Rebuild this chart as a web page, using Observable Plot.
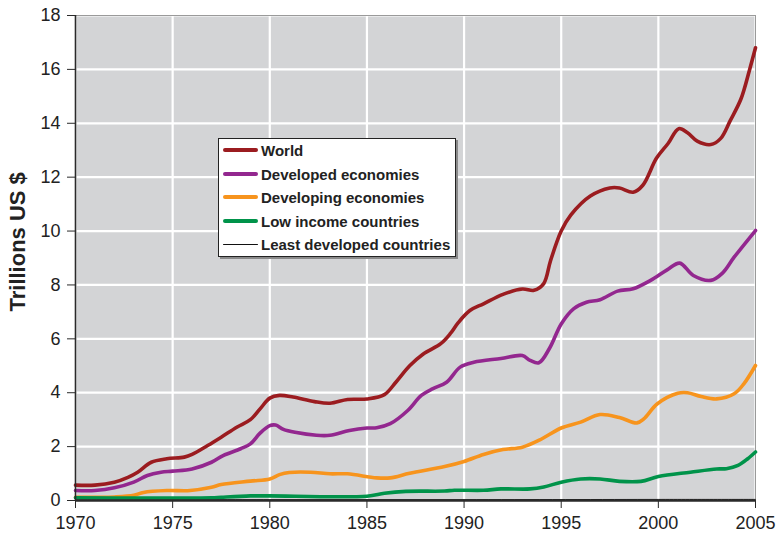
<!DOCTYPE html>
<html>
<head>
<meta charset="utf-8">
<script src="https://cdn.jsdelivr.net/npm/d3@7"></script>
<script src="https://cdn.jsdelivr.net/npm/@observablehq/plot@0.6"></script>
<style>
  body { margin: 0; background: #fff; }
  #wrap { position: relative; width: 778px; height: 540px; font-family: "Liberation Sans", Arial, sans-serif; }
  #legend { position: absolute; left: 218px; top: 138px; width: 238px; height: 119px; background: #fff;
            border: 1px solid #222; box-shadow: 2px 2px 0 #8a8a8a; box-sizing: border-box; }
  .row { position: absolute; left: 4px; height: 20px; display: flex; align-items: center; }
  .sw { width: 35px; margin-right: 3px; border-radius: 2px; }
  .lab { font-weight: bold; font-size: 15px; color: #222; white-space: nowrap; }
</style>
</head>
<body>
<div id="wrap"></div>
<script>
const seriesNames = ["World", "Developed economies", "Developing economies", "Low income countries", "Least developed countries"];
const seriesColors = ["#9b1c20", "#93278f", "#f7941d", "#00934a", "#111111"];
const xTicks = [1970, 1975, 1980, 1985, 1990, 1995, 2000, 2005];
const yTicks = [0, 2, 4, 6, 8, 10, 12, 14, 16, 18];
const yLabel = "Trillions US $";

const world = [[1970,0.57],[1971,0.57],[1972,0.68],[1972.7,0.86],[1973.2,1.05],[1973.9,1.42],[1974.7,1.55],[1975.6,1.61],[1976,1.71],[1976.8,2.04],[1977.5,2.35],[1978.3,2.72],[1979,3.0],[1979.5,3.4],[1980,3.8],[1980.5,3.9],[1981.2,3.84],[1982.3,3.67],[1983.1,3.61],[1984,3.75],[1985,3.77],[1985.9,3.93],[1986.5,4.4],[1987.2,5.0],[1987.9,5.44],[1988.8,5.82],[1989.3,6.2],[1989.7,6.6],[1990.3,7.05],[1991,7.3],[1992,7.65],[1993,7.85],[1993.6,7.8],[1994.1,8.05],[1994.45,8.9],[1995,10.0],[1995.5,10.6],[1996.5,11.3],[1997.5,11.6],[1998,11.6],[1998.7,11.44],[1999.2,11.7],[1999.9,12.7],[2000.5,13.25],[2001.05,13.8],[2001.5,13.65],[2002,13.34],[2002.7,13.21],[2003.2,13.43],[2003.7,14.1],[2004.25,14.9],[2004.7,16.0],[2005,16.8]];
const developed = [[1970,0.37],[1971,0.37],[1972,0.47],[1973,0.68],[1973.7,0.93],[1974.4,1.05],[1975,1.09],[1976,1.17],[1977,1.42],[1977.6,1.67],[1978.5,1.92],[1979,2.1],[1979.5,2.5],[1980,2.78],[1980.3,2.8],[1980.7,2.64],[1981.3,2.53],[1982.4,2.42],[1983.1,2.42],[1984.1,2.6],[1985,2.69],[1985.5,2.7],[1986.2,2.85],[1987.1,3.34],[1987.8,3.9],[1988.4,4.15],[1989.1,4.39],[1989.8,4.95],[1990.5,5.13],[1991.9,5.27],[1993,5.38],[1993.4,5.2],[1993.85,5.11],[1994.4,5.65],[1995,6.55],[1995.65,7.12],[1996.3,7.36],[1997,7.45],[1997.9,7.77],[1998.7,7.86],[1999.6,8.17],[2000.45,8.56],[2001.1,8.81],[2001.8,8.35],[2002.7,8.17],[2003.3,8.44],[2003.9,9.03],[2005,10.02]];
const developing = [[1970,0.12],[1971,0.12],[1972,0.13],[1973,0.19],[1973.5,0.3],[1974.7,0.37],[1975.9,0.37],[1977,0.49],[1977.5,0.59],[1979,0.72],[1980,0.8],[1980.5,0.96],[1981,1.04],[1982.1,1.05],[1983.1,0.99],[1984,0.99],[1985.5,0.84],[1986.2,0.84],[1987.2,1.01],[1989,1.26],[1990,1.45],[1991,1.71],[1992,1.89],[1993,1.98],[1993.9,2.25],[1995,2.69],[1996,2.91],[1997,3.19],[1998,3.08],[1998.9,2.88],[1999.25,3.03],[1999.95,3.59],[2001,3.98],[2001.5,4.0],[2002.2,3.86],[2003,3.77],[2003.9,3.96],[2004.4,4.33],[2005,5.01]];
const lowIncome = [[1970,0.1],[1977,0.1],[1977.5,0.12],[1979,0.17],[1980,0.17],[1985,0.16],[1985.9,0.27],[1987,0.34],[1989,0.35],[1989.5,0.38],[1991,0.38],[1991.9,0.43],[1993.4,0.43],[1994.1,0.5],[1995,0.68],[1996,0.8],[1997,0.8],[1998,0.71],[1999.1,0.71],[2000,0.89],[2001.65,1.05],[2003,1.17],[2003.5,1.18],[2004.1,1.3],[2004.6,1.55],[2005,1.8]];
const leastDeveloped = [[1970,0.02],[1980,0.03],[1990,0.03],[2000,0.04],[2005,0.04]];

const seriesData = [world, developed, developing, lowIncome, leastDeveloped];
const drawOrder = [4, 0, 1, 2, 3];

const lineMarks = drawOrder.map(i => Plot.line(seriesData[i], {
  x: d => d[0], y: d => d[1],
  stroke: seriesColors[i],
  strokeWidth: i === 4 ? 1 : 3.6,
  curve: "catmull-rom",
  strokeLinejoin: "round", strokeLinecap: "round"
}));

const chart = Plot.plot({
  width: 778, height: 540,
  marginLeft: 75, marginRight: 23, marginTop: 15, marginBottom: 40,
  style: { fontFamily: "'Liberation Sans', Arial, sans-serif", fontSize: "18px", color: "#222", background: "#fff", overflow: "visible" },
  x: { domain: [1970, 2005] },
  y: { domain: [0, 18] },
  marks: [
    Plot.frame({ fill: "#d3d4d6" }),
    Plot.gridX(xTicks, { stroke: "#fff", strokeOpacity: 1, strokeWidth: 2.2 }),
    Plot.gridY(yTicks, { stroke: "#fff", strokeOpacity: 1, strokeWidth: 2.2 }),
    Plot.frame({ stroke: "#9a9a9a", strokeWidth: 1 }),
    ...lineMarks,
    Plot.ruleY([0], { stroke: "#2a2a2a", strokeWidth: 2.4 }),
    Plot.ruleX([1970], { stroke: "#2a2a2a", strokeWidth: 1.6 }),
    Plot.axisX(xTicks, { tickSize: 8, tickPadding: 8, tickFormat: d => String(d), label: null, stroke: "#2a2a2a", fontSize: 18 }),
    Plot.axisY(yTicks, { tickSize: 8, tickPadding: 7, label: null, stroke: "#2a2a2a", fontSize: 18 }),
    Plot.text([yLabel], { x: 1970, y: 9.6, text: d => d, dx: -58, rotate: -90, fontWeight: "bold", fontSize: 22, fill: "#222", textAnchor: "middle" })
  ]
});

const wrap = document.getElementById("wrap");
wrap.appendChild(chart);

const legend = document.createElement("div");
legend.id = "legend";
const rowTops = [1, 25, 48, 72, 95];
seriesNames.forEach((name, i) => {
  const row = document.createElement("div");
  row.className = "row";
  row.style.top = rowTops[i] + "px";
  const sw = document.createElement("div");
  sw.className = "sw";
  sw.style.height = (i === 4 ? 1 : 4) + "px";
  sw.style.background = seriesColors[i];
  const lab = document.createElement("span");
  lab.className = "lab";
  lab.textContent = name;
  row.appendChild(sw);
  row.appendChild(lab);
  legend.appendChild(row);
});
wrap.appendChild(legend);
</script>
</body>
</html>
